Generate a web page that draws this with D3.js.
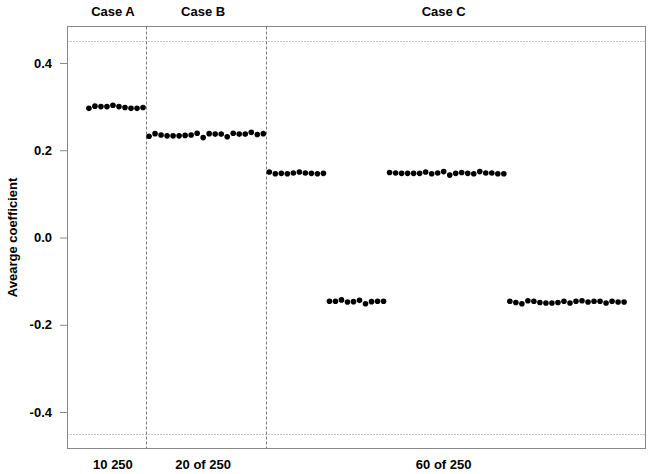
<!DOCTYPE html>
<html>
<head>
<meta charset="utf-8">
<style>
    body { margin: 0; background: #fff; }
    svg text { font-family: "Liberation Sans", Arial, Helvetica, sans-serif; font-weight: bold; }
    .axis .domain { display: none; }
</style>
</head>
<body>
<svg width="651" height="474"></svg>
<script src="https://cdn.jsdelivr.net/npm/d3@7"></script>
<script>
    // values
    var caseA = [0.296, 0.301, 0.300, 0.300, 0.303, 0.300, 0.298, 0.296, 0.296, 0.298];
    var caseB = [0.232, 0.238, 0.235, 0.233, 0.233, 0.233, 0.234, 0.235, 0.239, 0.229,
                 0.238, 0.237, 0.237, 0.231, 0.239, 0.237, 0.237, 0.241, 0.236, 0.238];
    var caseC = [0.150, 0.146, 0.147, 0.146, 0.148, 0.150, 0.148, 0.147, 0.146, 0.147,
                 -0.146, -0.146, -0.143, -0.148, -0.147, -0.144, -0.152, -0.147, -0.146, -0.146,
                 0.149, 0.148, 0.147, 0.147, 0.147, 0.147, 0.150, 0.146, 0.148, 0.151,
                 0.143, 0.147, 0.149, 0.147, 0.146, 0.151, 0.148, 0.148, 0.146, 0.146,
                 -0.146, -0.149, -0.152, -0.145, -0.146, -0.149, -0.150, -0.150, -0.149, -0.146,
                 -0.150, -0.146, -0.145, -0.148, -0.146, -0.146, -0.150, -0.146, -0.148, -0.148];
    var caseNames = ["Case A", "Case B", "Case C"];
    var caseLabels = ["10 250", "20 of 250", "60 of 250"];
    var yTicks = [-0.4, -0.2, 0.0, 0.2, 0.4];
    var refLines = [-0.45, 0.45];
    var yTitle = "Avearge coefficient";

    var svg = d3.select("svg"),
        box = {left: 67.5, right: 645.5, top: 26.5, bottom: 448.5};

    var series = [caseA, caseB, caseC];
    var points = [], bounds = [0];
    series.forEach(function(s) {
        s.forEach(function(v) { points.push({i: points.length + 1, v: v}); });
        bounds.push(points.length);
    });
    var n = points.length;

    // R-style 4% padding
    var x = d3.scaleLinear()
        .domain([1 - 0.04 * (n - 1), n + 0.04 * (n - 1)])
        .range([box.left, box.right]);
    var y = d3.scaleLinear()
        .domain([-0.465 * 1.04, 0.465 * 1.04])
        .range([box.bottom, box.top]);

    var g = svg.append("g");

    // dotted reference lines
    g.selectAll(".ref")
        .data(refLines)
        .enter().append("line")
        .attr("x1", box.left).attr("x2", box.right)
        .attr("y1", function(d) { return Math.round(y(d)) + 0.5; })
        .attr("y2", function(d) { return Math.round(y(d)) + 0.5; })
        .attr("stroke", "#888")
        .attr("stroke-dasharray", "1,2");

    // dashed dividers between cases
    g.selectAll(".div")
        .data(bounds.slice(1, -1))
        .enter().append("line")
        .attr("x1", function(d) { return Math.round(x(d + 0.5)) + 0.5; })
        .attr("x2", function(d) { return Math.round(x(d + 0.5)) + 0.5; })
        .attr("y1", box.top).attr("y2", box.bottom)
        .attr("stroke", "#777")
        .attr("stroke-dasharray", "3,2");

    // box
    g.append("rect")
        .attr("x", box.left).attr("y", box.top)
        .attr("width", box.right - box.left)
        .attr("height", box.bottom - box.top)
        .attr("fill", "none")
        .attr("stroke", "#888");

    // points
    g.selectAll("circle")
        .data(points)
        .enter().append("circle")
        .attr("cx", function(d) { return x(d.i); })
        .attr("cy", function(d) { return y(d.v); })
        .attr("r", 2.8)
        .attr("fill", "#000");

    // y axis
    var yAxis = svg.append("g")
        .attr("class", "axis")
        .attr("transform", "translate(" + (box.left - 0.5) + ",0)")
        .call(d3.axisLeft(y).tickValues(yTicks).tickFormat(d3.format(".1f")).tickSize(7).tickPadding(8));
    yAxis.selectAll(".tick line").attr("stroke", "#888");
    yAxis.selectAll(".tick text")
        .attr("fill", "#000")
        .style("font-size", "13px")
        .text(function(d) { return d3.format(".1f")(d).replace("−", "-"); });

    svg.append("text")
        .attr("transform", "translate(12," + y(0) + ") rotate(-90)")
        .attr("text-anchor", "middle")
        .attr("dy", "0.35em")
        .style("font-size", "13px")
        .text(yTitle);

    // case names on top, labels below
    var mids = caseNames.map(function(d, k) { return (bounds[k] + bounds[k + 1]) / 2; });
    svg.selectAll(".case")
        .data(caseNames)
        .enter().append("text")
        .attr("x", function(d, k) { return x(mids[k]); })
        .attr("y", 16)
        .attr("text-anchor", "middle")
        .style("font-size", "13px")
        .text(function(d) { return d; });

    svg.selectAll(".lab")
        .data(caseLabels)
        .enter().append("text")
        .attr("x", function(d, k) { return x(mids[k]); })
        .attr("y", 469)
        .attr("text-anchor", "middle")
        .style("font-size", "13px")
        .text(function(d) { return d; });
</script>
</body>
</html>
